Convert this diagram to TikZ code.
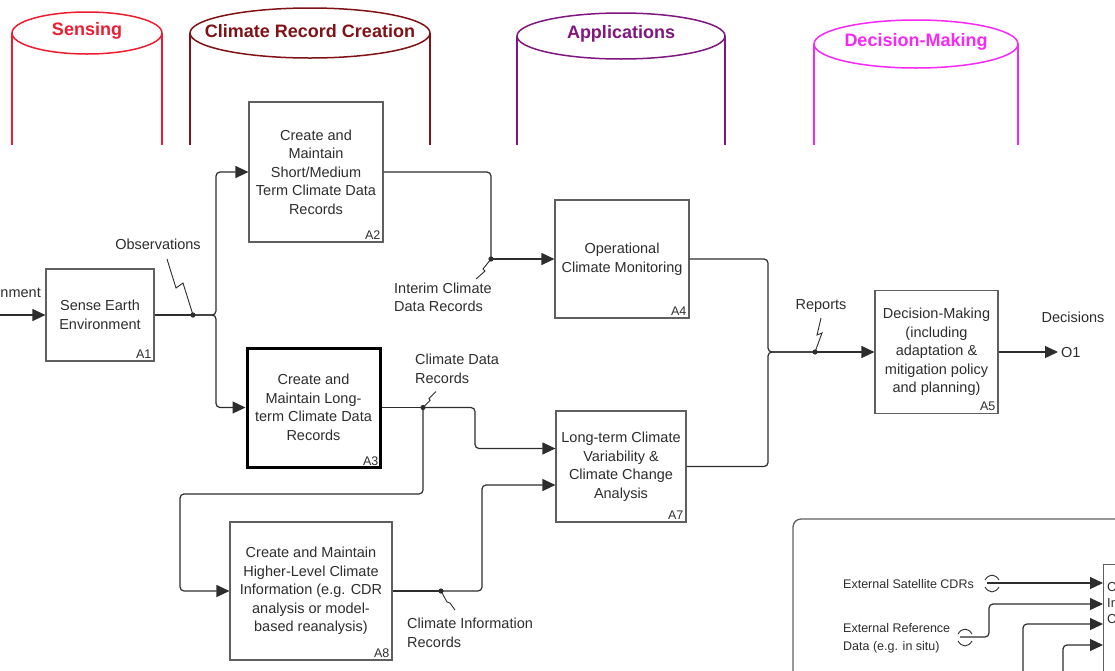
\documentclass[tikz,border=0pt]{standalone}
\usepackage{fontspec}
\setmainfont{Liberation Sans}
\usetikzlibrary{arrows.meta,calc}
\definecolor{senscol}{RGB}{238,28,48}
\definecolor{crccol}{RGB}{128,18,22}
\definecolor{appcol}{RGB}{128,22,128}
\definecolor{decicol}{RGB}{245,40,245}
\definecolor{linecol}{RGB}{45,45,45}
\definecolor{boxcol}{RGB}{95,95,95}
\begin{document}
\begin{tikzpicture}[x=1pt, y=-1pt,
    font=\fontsize{14.5}{18.5}\selectfont, text=linecol,
    act/.style={draw=boxcol, line width=1.2pt, align=center, inner sep=2pt},
    flow/.style={draw=linecol, line width=1.2pt, rounded corners=4pt, -{Triangle[length=13pt,width=12pt]}},
    link/.style={draw=linecol, line width=1.2pt, rounded corners=4pt},
    squig/.style={draw=linecol, line width=0.9pt},
    lbl/.style={inner sep=1pt},
    tag/.style={anchor=south east, inner sep=3pt, font=\fontsize{12.5}{14}\selectfont}]
    \useasboundingbox (0,0) rectangle (1115,670);
    \clip (0,0) rectangle (1115,670);

    \foreach \cx/\cy/\rx/\ry/\col/\lane in {87/33/75/21/senscol/Sensing, 310/33/120/25/crccol/Climate Record Creation, 621/36/104/23/appcol/Applications, 916/44/102/24/decicol/Decision-Making} {
        \draw[draw=\col, line width=1.5pt] (\cx,\cy) ellipse [x radius=\rx pt, y radius=\ry pt];
        \draw[draw=\col, line width=1.5pt] (\cx-\rx,\cy) -- (\cx-\rx,145) (\cx+\rx,\cy) -- (\cx+\rx,145);
        \node[text=\col, font=\bfseries\fontsize{18}{20}\selectfont] (lane\cx) at (\cx,\cy-2) {\lane};
    }

    \node[act, minimum width=108pt, minimum height=92pt] (a1) at (100,315) {Sense Earth\\Environment};
    \node[act, minimum width=134pt, minimum height=140pt] (a2) at (316,172) {Create and\\Maintain\\Short/Medium\\Term Climate Data\\Records};
    \node[act, draw=black, line width=3pt, minimum width=133pt, minimum height=119pt] (a3) at (313.5,407.5) {Create and\\Maintain Long-\\term Climate Data\\Records};
    \node[act, minimum width=134pt, minimum height=118pt] (a4) at (622,259) {Operational\\Climate Monitoring};
    \node[act, minimum width=123pt, minimum height=123pt] (a5) at (936.5,352) {Decision-Making\\(including\\adaptation \&\\mitigation policy\\and planning)};
    \node[act, minimum width=130pt, minimum height=111pt] (a7) at (621,466.5) {Long-term Climate\\Variability \&\\Climate Change\\Analysis};
    \node[act, minimum width=162pt, minimum height=138pt] (a8) at (311,591) {Create and Maintain\\Higher-Level Climate\\Information (e.g. CDR\\analysis or model-\\based reanalysis)};
    \foreach \b/\t in {a1/A1, a2/A2, a3/A3, a4/A4, a5/A5, a7/A7, a8/A8}
        \node[tag] (\b tag) at (\b.south east) {\t};

    \coordinate (envsrc) at (0,315);
    \coordinate (obs) at (193,315);
    \coordinate (fork1) at (216,315);
    \coordinate (icdr) at (491,259);
    \coordinate (cdr) at (423,407.5);
    \coordinate (cir) at (441,591);
    \coordinate (fork2) at (768,352);
    \coordinate (rep) at (815,352);

    \node[lbl, anchor=east] (envlbl) at (42,292) {Environment};
    \node[lbl] (obslbl) at (158,244) {Observations};
    \node[lbl, anchor=west, align=left] (icdrlbl) at (393,297.5) {Interim Climate\\Data Records};
    \node[lbl, anchor=west, align=left] (cdrlbl) at (414,369) {Climate Data\\Records};
    \node[lbl, anchor=west, align=left] (cirlbl) at (406,633) {Climate Information\\Records};
    \node[lbl] (replbl) at (821,306) {Reports};
    \node[lbl] (declbl) at (1073,317) {Decisions};
    \node[anchor=west, inner sep=3pt] (o1) at (1058,352) {O1};

    \draw[flow] (envsrc) -- (a1.west);
    \draw[link] (a1.east) -- (obs);
    \draw[flow] (obs) -- (fork1) |- (a2.west);
    \draw[flow] (obs) -- (fork1) |- (a3.west);
    \draw[link] (a2.east) -| (icdr);
    \draw[flow] (icdr) -- (a4.west);
    \draw[link] (a3.east) -- (cdr);
    \draw[flow] (cdr) -- ++(52,0) |- ($(a7.west)+(0,-18)$);
    \draw[flow] (cdr) -- ++(0,86.5) -- ++(-243,0) |- (a8.west);
    \draw[link] (a8.east) -- (cir);
    \draw[flow] (cir) -- ++(41,0) |- ($(a7.west)+(0,18.5)$);
    \draw[link] (a4.east) -| (fork2) -- (rep);
    \draw[link] (a7.east) -| (fork2) -- (rep);
    \draw[flow] (rep) -- (a5.west);
    \draw[flow] (a5.east) -- (o1.west);

    \draw[squig] (obs) -- ++(-10,-32) -- ++(-7,5) -- ++(-9,-29);
    \draw[squig] (icdr) -- ++(-8,10) -- ++(2,2) -- ++(-9,8);
    \draw[squig] (cdr) -- ++(7,-7) -- ++(-1,-2) -- ++(7,-7);
    \draw[squig] (cir) -- ++(6,11) -- ++(3,1) -- ++(5,7);
    \draw[squig] (rep) -- ++(7,-19) -- ++(-5,2) -- ++(4,-17);
    \foreach \j in {obs,icdr,cdr,cir,rep}
        \fill[linecol] (\j) circle (2.6pt);

    % external inputs
    \draw[draw=boxcol, line width=1.3pt, rounded corners=8pt] (793,519) rectangle (1200,720);
    \node[act, anchor=north west, minimum width=100pt, minimum height=140pt] (ext) at (1103,564) {};
    \node[lbl, anchor=north west, align=left, font=\fontsize{13}{16}\selectfont] (exttxt) at (1106,581) {C\\In\\C};
    \coordinate (satsrc) at (987,583);
    \coordinate (refsrc) at (960,637);
    \coordinate (in3) at (1023,690);
    \coordinate (in4) at (1063,690);
    \node[lbl, anchor=west, font=\fontsize{12.5}{18}\selectfont] (satlbl) at (842,584) {External Satellite CDRs};
    \node[lbl, anchor=west, align=left, font=\fontsize{12.5}{18}\selectfont] (reflbl) at (842,638) {External Reference\\Data (e.g. in situ)};
    \draw[flow] (satsrc) -- (ext.west |- satsrc);
    \draw[flow] (refsrc) -- ++(29,0) |- ($(ext.north west)+(0,40)$);
    \draw[flow] (in3) |- ($(ext.north west)+(0,60)$);
    \draw[flow] (in4) |- ($(ext.north west)+(0,81)$);
    \foreach \t in {satsrc,refsrc} {
        \draw[squig] ($(\t)+(-2,-3)$) .. controls +(4,-6.5) and +(-4,-6.5) .. ($(\t)+(12,-3)$);
        \draw[squig] ($(\t)+(-2,4)$) .. controls +(4,6.5) and +(-4,6.5) .. ($(\t)+(12,4)$);
    }
\end{tikzpicture}
\end{document}
